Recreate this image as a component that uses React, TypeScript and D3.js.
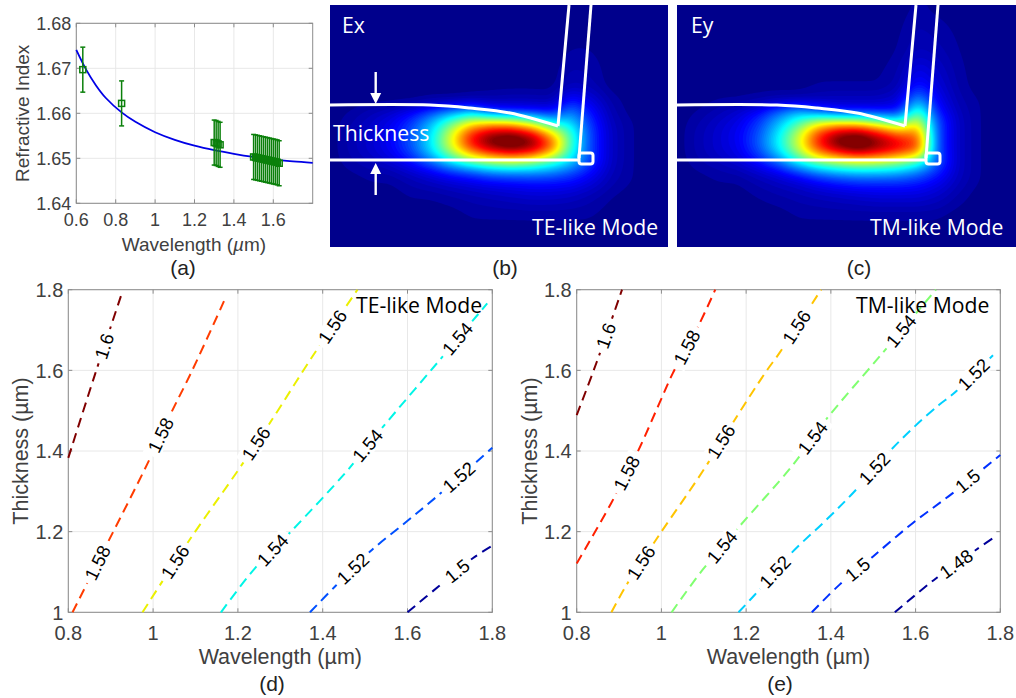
import React from "react";
import * as d3 from "d3";

// ---------- Panel (a) data ----------
const fitWavelength = [0.6, 0.65, 0.7, 0.75, 0.83, 0.9, 1.0, 1.1, 1.2, 1.3, 1.4, 1.5, 1.6, 1.7, 1.8];
const fitIndex = [1.6741, 1.6697, 1.6662, 1.6634, 1.6602, 1.6581, 1.6558, 1.6541, 1.6528, 1.6518, 1.651, 1.6503, 1.6497, 1.6493, 1.649];
const measWavelength = [0.633, 0.83, 1.3, 1.31, 1.32, 1.33, 1.5, 1.51, 1.52, 1.53, 1.54, 1.55, 1.56, 1.57, 1.58, 1.59, 1.6, 1.61, 1.62, 1.63];
const measIndex = [1.6697, 1.6622, 1.6535, 1.6534, 1.6532, 1.653, 1.6503, 1.6502, 1.6501, 1.65, 1.6499, 1.6498, 1.6497, 1.6496, 1.6495, 1.6494, 1.6493, 1.6492, 1.6491, 1.6489];
const measError = 0.005;
const aTicksX = [0.6, 0.8, 1, 1.2, 1.4, 1.6];
const aTicksY = [1.64, 1.65, 1.66, 1.67, 1.68];

// ---------- Panels (b), (c) field samples ----------
const fieldCols = d3.range(18).map((i) => i * 20);
const fieldRows = [0, 50, 85, 100, 110, 120, 130, 140, 150, 160, 170, 180, 195, 215, 247];
const lo = 0.02;
const exField = [
  [lo, lo, lo, lo, lo, lo, lo, lo, lo, lo, lo, lo, lo, lo, lo, lo, lo, lo],
  [lo, lo, lo, lo, lo, lo, lo, lo, lo, lo, lo, lo, 0.03, 0.03, lo, lo, lo, lo],
  [lo, lo, lo, lo, lo, lo, lo, lo, lo, lo, lo, lo, 0.06, 0.05, lo, lo, lo, lo],
  [lo, lo, lo, lo, lo, 0.03, 0.03, 0.04, 0.05, 0.06, 0.06, 0.05, 0.15, 0.1, 0.04, lo, lo, lo],
  [lo, 0.03, 0.05, 0.07, 0.11, 0.18, 0.25, 0.3, 0.15, 0.12, 0.12, 0.12, 0.25, 0.14, 0.05, lo, lo, lo],
  [lo, 0.04, 0.07, 0.11, 0.18, 0.3, 0.45, 0.58, 0.62, 0.6, 0.5, 0.35, 0.33, 0.17, 0.06, 0.03, lo, lo],
  [lo, 0.05, 0.08, 0.12, 0.2, 0.35, 0.58, 0.82, 0.92, 0.93, 0.84, 0.62, 0.42, 0.19, 0.07, 0.03, lo, lo],
  [lo, 0.05, 0.08, 0.13, 0.22, 0.37, 0.62, 0.9, 1.08, 1.15, 1.05, 0.82, 0.45, 0.19, 0.07, 0.03, lo, lo],
  [lo, 0.05, 0.08, 0.12, 0.2, 0.35, 0.57, 0.78, 0.9, 0.96, 0.93, 0.76, 0.42, 0.19, 0.07, 0.03, lo, lo],
  [lo, 0.04, 0.06, 0.09, 0.15, 0.25, 0.38, 0.5, 0.57, 0.6, 0.55, 0.45, 0.35, 0.19, 0.07, 0.03, lo, lo],
  [lo, 0.03, 0.04, 0.05, 0.08, 0.12, 0.18, 0.22, 0.28, 0.3, 0.3, 0.28, 0.22, 0.14, 0.06, 0.03, lo, lo],
  [lo, lo, 0.03, 0.03, 0.05, 0.07, 0.09, 0.11, 0.13, 0.14, 0.15, 0.15, 0.14, 0.1, 0.05, 0.03, lo, lo],
  [lo, lo, lo, lo, 0.03, 0.03, 0.04, 0.05, 0.06, 0.07, 0.08, 0.08, 0.07, 0.05, 0.03, lo, lo, lo],
  [lo, lo, lo, lo, lo, lo, lo, 0.03, 0.03, 0.03, 0.03, 0.03, 0.03, 0.03, lo, lo, lo, lo],
  [lo, lo, lo, lo, lo, lo, lo, lo, lo, lo, lo, lo, lo, lo, lo, lo, lo, lo],
];
const eyField = [
  [lo, lo, lo, lo, lo, lo, lo, lo, lo, lo, lo, lo, 0.03, lo, lo, lo, lo, lo],
  [lo, lo, lo, lo, lo, lo, lo, lo, lo, lo, lo, 0.03, 0.06, 0.05, 0.03, lo, lo, lo],
  [lo, lo, lo, lo, lo, lo, lo, 0.03, 0.03, 0.03, 0.03, 0.05, 0.15, 0.09, 0.04, lo, lo, lo],
  [lo, lo, 0.03, 0.03, 0.04, 0.05, 0.05, 0.06, 0.07, 0.07, 0.07, 0.09, 0.3, 0.12, 0.05, 0.03, lo, lo],
  [lo, 0.03, 0.05, 0.08, 0.12, 0.22, 0.3, 0.2, 0.12, 0.12, 0.12, 0.13, 0.45, 0.15, 0.06, 0.03, lo, lo],
  [lo, 0.04, 0.07, 0.1, 0.18, 0.3, 0.42, 0.55, 0.58, 0.56, 0.48, 0.4, 0.6, 0.2, 0.07, 0.03, lo, lo],
  [lo, 0.05, 0.08, 0.12, 0.2, 0.35, 0.55, 0.8, 0.92, 0.94, 0.84, 0.72, 0.74, 0.2, 0.07, 0.03, lo, lo],
  [lo, 0.05, 0.08, 0.12, 0.22, 0.38, 0.6, 0.87, 1.08, 1.15, 1.02, 0.92, 0.82, 0.2, 0.07, 0.03, lo, lo],
  [lo, 0.05, 0.08, 0.11, 0.2, 0.35, 0.56, 0.8, 0.92, 1.0, 0.95, 0.88, 0.8, 0.2, 0.07, 0.03, lo, lo],
  [lo, 0.04, 0.06, 0.09, 0.15, 0.25, 0.4, 0.52, 0.58, 0.62, 0.6, 0.55, 0.45, 0.22, 0.07, 0.03, lo, lo],
  [lo, 0.03, 0.04, 0.05, 0.08, 0.12, 0.2, 0.28, 0.33, 0.35, 0.35, 0.33, 0.27, 0.17, 0.07, 0.03, lo, lo],
  [lo, lo, 0.03, 0.03, 0.05, 0.07, 0.09, 0.13, 0.16, 0.18, 0.18, 0.18, 0.16, 0.12, 0.06, 0.03, lo, lo],
  [lo, lo, lo, lo, 0.03, 0.04, 0.05, 0.06, 0.07, 0.08, 0.09, 0.09, 0.09, 0.07, 0.04, lo, lo, lo],
  [lo, lo, lo, lo, lo, lo, 0.03, 0.03, 0.03, 0.03, 0.03, 0.03, 0.03, 0.03, lo, lo, lo, lo],
  [lo, lo, lo, lo, lo, lo, lo, lo, lo, lo, lo, lo, lo, lo, lo, lo, lo, lo],
];
const topSurface: [number, number][] = [[0, 105], [100, 105], [140, 108], [180, 113], [228, 126]];
const leftWall: [number, number][] = [[228, 126], [239, 5]];
const rightWall: [number, number][] = [[249, 158], [261, 5]];
const bottomSurface: [number, number][] = [[0, 160], [249, 160]];

// ---------- Panels (d), (e) contour data ----------
type Contour = { level: string; color: string; pts: [number, number][]; labels: number[] };
const teContours: Contour[] = [
  { level: "1.6", color: "#800000", pts: [[0.8, 1.383], [0.863, 1.59], [0.926, 1.79]], labels: [0.885] },
  { level: "1.58", color: "#ff3c00", pts: [[0.81, 1], [0.894, 1.175], [0.985, 1.365], [1.04, 1.489], [1.091, 1.597], [1.173, 1.785]], labels: [0.869, 1.018] },
  { level: "1.56", color: "#ebf000", pts: [[0.975, 1], [1.083, 1.175], [1.201, 1.353], [1.272, 1.464], [1.378, 1.638], [1.482, 1.8]], labels: [1.052, 1.243, 1.423] },
  { level: "1.54", color: "#00f5e6", pts: [[1.16, 1], [1.24, 1.109], [1.323, 1.198], [1.456, 1.349], [1.539, 1.456], [1.669, 1.617], [1.788, 1.766]], labels: [1.282, 1.506, 1.718] },
  { level: "1.52", color: "#0050ff", pts: [[1.37, 1], [1.429, 1.064], [1.511, 1.15], [1.598, 1.225], [1.669, 1.287], [1.8, 1.408]], labels: [1.471, 1.721] },
  { level: "1.5", color: "#00009a", pts: [[1.6, 1], [1.673, 1.064], [1.754, 1.134], [1.8, 1.165]], labels: [1.717] },
];
const tmContours: Contour[] = [
  { level: "1.6", color: "#800000", pts: [[0.8, 1.489], [0.846, 1.617], [0.907, 1.8]], labels: [0.869] },
  { level: "1.58", color: "#ff2000", pts: [[0.8, 1.121], [0.881, 1.27], [0.944, 1.398], [0.995, 1.518], [1.027, 1.593], [1.088, 1.712], [1.127, 1.8]], labels: [0.918, 1.06] },
  { level: "1.56", color: "#ffc400", pts: [[0.882, 1], [0.92, 1.072], [0.995, 1.192], [1.097, 1.349], [1.168, 1.469], [1.247, 1.597], [1.278, 1.642], [1.377, 1.8]], labels: [0.952, 1.141, 1.319] },
  { level: "1.54", color: "#80ff70", pts: [[1.024, 1], [1.097, 1.105], [1.18, 1.208], [1.31, 1.365], [1.388, 1.477], [1.518, 1.638], [1.648, 1.8]], labels: [1.143, 1.357, 1.566] },
  { level: "1.52", color: "#00d0ff", pts: [[1.182, 1], [1.22, 1.043], [1.306, 1.146], [1.389, 1.229], [1.455, 1.299], [1.534, 1.394], [1.597, 1.46], [1.655, 1.514], [1.687, 1.54], [1.737, 1.59], [1.79, 1.645]], labels: [1.268, 1.503, 1.737] },
  { level: "1.5", color: "#0030ff", pts: [[1.355, 1], [1.42, 1.068], [1.499, 1.138], [1.593, 1.221], [1.687, 1.295], [1.8, 1.39]], labels: [1.463, 1.723] },
  { level: "1.48", color: "#00009a", pts: [[1.551, 1], [1.648, 1.084], [1.743, 1.155], [1.788, 1.188]], labels: [1.696] },
];
const contourTicksX = [0.8, 1, 1.2, 1.4, 1.6, 1.8];
const contourTicksY = [1, 1.2, 1.4, 1.6, 1.8];

// ---------- Styling ----------
const SANS = "'Liberation Sans', Arial, sans-serif";
const MYRIAD = "'Open Sans', 'Noto Sans', sans-serif";
const TICK = "#404040";
const GRID = "#e8e8e8";
const BORDER = "#8c8c8c";

const jetStops: [number, string][] = [
  [0, "#000088"], [0.125, "#0000ff"], [0.375, "#00ffff"], [0.625, "#ffff00"], [0.875, "#ff0000"], [1, "#800000"],
];
const jet = d3
  .scaleLinear<string>()
  .domain(jetStops.map((d) => d[0]))
  .range(jetStops.map((d) => d[1]))
  .clamp(true);

function fieldContours(grid: number[][], y0: number) {
  const step = 2;
  const w = Math.ceil(340 / step);
  const h = Math.ceil(242 / step);
  const values = new Float64Array(w * h);
  const lookup = (xs: number[], v: number) => {
    const i = Math.min(Math.max(d3.bisectRight(xs, v) - 1, 0), xs.length - 2);
    return [i, Math.min(1, Math.max(0, (v - xs[i]) / (xs[i + 1] - xs[i])))];
  };
  for (let j = 0; j < h; j++) {
    const [r, fr] = lookup(fieldRows, y0 + j * step);
    for (let i = 0; i < w; i++) {
      const [c, fc] = lookup(fieldCols, i * step);
      const a = grid[r][c] * (1 - fc) + grid[r][c + 1] * fc;
      const b = grid[r + 1][c] * (1 - fc) + grid[r + 1][c + 1] * fc;
      values[j * w + i] = a * (1 - fr) + b * fr;
    }
  }
  const blur = (d3 as any).blur2;
  if (blur) blur({ data: values, width: w, height: h }, 2.2);
  const levels = d3.range(0.03, 1.0, 0.014);
  return { w, h, step, contours: d3.contours().size([w, h]).thresholds(levels)(Array.from(values)) };
}

function Field({ x0, y0, width, height, grid, id }: any) {
  const { step, contours } = React.useMemo(() => fieldContours(grid, y0), [grid, y0]);
  const path = d3.geoPath();
  const sx = d3.scaleLinear().domain([0, width]).range([x0, x0 + width]);
  const sy = d3.scaleLinear().domain([0, height + y0]).range([0, height + y0]);
  const line = d3.line().x((d) => sx(d[0])).y((d) => sy(d[1]));
  const curve = d3.line().x((d) => sx(d[0])).y((d) => sy(d[1])).curve(d3.curveCatmullRom);
  return (
    <g>
      <clipPath id={id}>
        <rect x={x0} y={y0} width={width} height={height} />
      </clipPath>
      <g clipPath={`url(#${id})`}>
        <rect x={x0} y={y0} width={width} height={height} fill="#00008c" />
        <g transform={`translate(${x0},${y0}) scale(${step})`}>
          {contours.map((c: any, i: number) => (
            <path key={i} d={path(c) || ""} fill={jet(c.value)} />
          ))}
        </g>
        <g fill="none" stroke="#fff" strokeWidth={3}>
          <path d={curve(topSurface) || ""} />
          <path d={line(leftWall) || ""} />
          <path d={line(rightWall) || ""} />
          <path d={line(bottomSurface) || ""} />
          <rect x={sx(249)} y={sy(153)} width={14} height={11} rx={2.5} />
        </g>
      </g>
    </g>
  );
}

function Axes({ x0, x1, y0, y1, sx, sy, ticksX, ticksY, fmtX, fmtY, fs, labelFs, xLabel, yLabel, xLabelY, yLabelX, tickGap }: any) {
  return (
    <g>
      {ticksX.map((t: number) => (
        <line key={t} x1={sx(t)} x2={sx(t)} y1={y0} y2={y1} stroke={GRID} strokeWidth={1} />
      ))}
      {ticksY.map((t: number) => (
        <line key={t} x1={x0} x2={x1} y1={sy(t)} y2={sy(t)} stroke={GRID} strokeWidth={1} />
      ))}
      <rect x={x0} y={y1} width={x1 - x0} height={y0 - y1} fill="none" stroke={BORDER} strokeWidth={1} />
      {ticksX.map((t: number) => (
        <g key={t} stroke={BORDER}>
          <line x1={sx(t)} x2={sx(t)} y1={y0} y2={y0 - 4} />
          <line x1={sx(t)} x2={sx(t)} y1={y1} y2={y1 + 4} />
        </g>
      ))}
      {ticksY.map((t: number) => (
        <g key={t} stroke={BORDER}>
          <line x1={x0} x2={x0 + 4} y1={sy(t)} y2={sy(t)} />
          <line x1={x1} x2={x1 - 4} y1={sy(t)} y2={sy(t)} />
        </g>
      ))}
      <g fontFamily={SANS} fontSize={fs} fill={TICK}>
        {ticksX.map((t: number) => (
          <text key={t} x={sx(t)} y={y0 + fs + tickGap} textAnchor="middle">{fmtX(t)}</text>
        ))}
        {ticksY.map((t: number) => (
          <text key={t} x={x0 - 5} y={sy(t) + fs * 0.36} textAnchor="end">{fmtY(t)}</text>
        ))}
      </g>
      <g fontFamily={SANS} fontSize={labelFs} fill={TICK}>
        {xLabel ? <text x={(x0 + x1) / 2} y={xLabelY} textAnchor="middle">{xLabel}</text> : null}
        <text transform={`translate(${yLabelX},${(y0 + y1) / 2}) rotate(-90)`} textAnchor="middle">{yLabel}</text>
      </g>
    </g>
  );
}

function ContourPanel({ x0, x1, contours, title, titleX }: any) {
  const y0 = 612.3;
  const y1 = 289.7;
  const sx = d3.scaleLinear().domain([0.8, 1.8]).range([x0, x1]);
  const sy = d3.scaleLinear().domain([1, 1.8]).range([y0, y1]);
  const line = d3.line().x((d) => sx(d[0])).y((d) => sy(d[1])).curve(d3.curveCatmullRom);
  const labelOf = (c: Contour, lam: number) => {
    const i = Math.min(Math.max(d3.bisectRight(c.pts.map((p) => p[0]), lam) - 1, 0), c.pts.length - 2);
    const [a, b] = [c.pts[i], c.pts[i + 1]];
    const t = (lam - a[0]) / (b[0] - a[0]);
    const T = a[1] + t * (b[1] - a[1]);
    const first = c.pts[0];
    const last = c.pts[c.pts.length - 1];
    const ang = (Math.atan2(sy(last[1]) - sy(first[1]), sx(last[0]) - sx(first[0])) * 180) / Math.PI;
    const local = (Math.atan2(sy(b[1]) - sy(a[1]), sx(b[0]) - sx(a[0])) * 180) / Math.PI;
    return { x: sx(lam), y: sy(T), angle: (ang + local) / 2 };
  };
  return (
    <g>
      <Axes
        x0={x0} x1={x1} y0={y0} y1={y1} sx={sx} sy={sy}
        ticksX={contourTicksX} ticksY={contourTicksY}
        fmtX={d3.format("~g")} fmtY={d3.format("~g")}
        fs={20} labelFs={21.5} tickGap={7.5} xLabel="Wavelength (µm)" yLabel="Thickness (µm)"
        xLabelY={664} yLabelX={x0 - 40}
      />
      {contours.map((c: Contour) => (
        <path key={c.level} d={line(c.pts) || ""} fill="none" stroke={c.color} strokeWidth={2} strokeDasharray="10 6" />
      ))}
      {contours.map((c: Contour) =>
        c.labels.map((lam) => {
          const l = labelOf(c, lam);
          const w = c.level.length * 9.4 + 8;
          return (
            <g key={c.level + lam} transform={`translate(${l.x},${l.y}) rotate(${l.angle})`}>
              <rect x={-w / 2} y={-9} width={w} height={18} fill="#fff" />
              <text textAnchor="middle" y={6.5} fontFamily={SANS} fontSize={18.5} fill="#000">{c.level}</text>
            </g>
          );
        })
      )}
      <text x={titleX} y={313} fontFamily={MYRIAD} fontSize={21.2} fill="#000">{title}</text>
    </g>
  );
}

function PanelA() {
  const x0 = 76.3, x1 = 312.7, y0 = 203.3, y1 = 23.3;
  const sx = d3.scaleLinear().domain([0.6, 1.8]).range([x0, x1]);
  const sy = d3.scaleLinear().domain([1.64, 1.68]).range([y0, y1]);
  const fit = d3.line<number>().x((d) => sx(d)).y((_, i) => sy(fitIndex[i])).curve(d3.curveCatmullRom);
  const green = "#0b800b";
  return (
    <g>
      <Axes
        x0={x0} x1={x1} y0={y0} y1={y1} sx={sx} sy={sy}
        ticksX={aTicksX} ticksY={aTicksY}
        fmtX={d3.format("~g")} fmtY={d3.format(".2f")}
        fs={18} labelFs={19} tickGap={5} xLabel="" yLabel="Refractive Index" xLabelY={250} yLabelX={29}
      />
      <text x={194} y={251} textAnchor="middle" fontFamily={SANS} fontSize={19} fill={TICK}>
        Wavelength (<tspan fontStyle="italic">µ</tspan>m)
      </text>
      <path d={fit(fitWavelength) || ""} fill="none" stroke="#0000e6" strokeWidth={1.8} />
      <g stroke={green} strokeWidth={1.5} fill="none">
        {measWavelength.map((l, i) => {
          const x = sx(l);
          const top = sy(measIndex[i] + measError);
          const bot = sy(measIndex[i] - measError);
          return (
            <g key={l}>
              <line x1={x} x2={x} y1={top} y2={bot} />
              <line x1={x - 2.5} x2={x + 2.5} y1={top} y2={top} />
              <line x1={x - 2.5} x2={x + 2.5} y1={bot} y2={bot} />
              <rect x={x - 3} y={sy(measIndex[i]) - 3} width={6} height={6} strokeWidth={1.5} />
            </g>
          );
        })}
      </g>
    </g>
  );
}

function Arrow({ x, from, to }: { x: number; from: number; to: number }) {
  const dir = Math.sign(to - from);
  return (
    <g>
      <line x1={x} x2={x} y1={from} y2={to - dir * 8} stroke="#fff" strokeWidth={2.4} />
      <path d={`M${x - 5.5},${to - dir * 11}L${x + 5.5},${to - dir * 11}L${x},${to}Z`} fill="#fff" />
    </g>
  );
}

const captions: [string, number, number][] = [
  ["(a)", 183, 275],
  ["(b)", 505, 275],
  ["(c)", 859, 275],
  ["(d)", 272, 691],
  ["(e)", 780, 691],
];

export default function App() {
  return (
    <svg width={1016} height={698} style={{ position: "absolute", left: 0, top: 0, display: "block", background: "#fff" }}>
      <PanelA />
      <Field id="clipB" x0={330} y0={5} width={338} height={242} grid={exField} />
      <Field id="clipC" x0={677} y0={5} width={339} height={242} grid={eyField} />
      <g fontFamily={MYRIAD} fill="#fff" fontSize={21.2}>
        <text x={342} y={33}>Ex</text>
        <text x={691} y={33}>Ey</text>
        <text x={333} y={141}>Thickness</text>
        <text x={532} y={235}>TE-like Mode</text>
        <text x={870} y={235}>TM-like Mode</text>
      </g>
      <Arrow x={375.7} from={72} to={104} />
      <Arrow x={375.7} from={195} to={163} />
      <ContourPanel x0={68.3} x1={492.3} contours={teContours} title="TE-like Mode" titleX={356} />
      <ContourPanel x0={576.7} x1={1000.3} contours={tmContours} title="TM-like Mode" titleX={856} />
      <g fontFamily={SANS} fontSize={21} fill="#222" textAnchor="middle">
        {captions.map(([t, x, y]) => (
          <text key={t} x={x} y={y}>{t}</text>
        ))}
      </g>
    </svg>
  );
}
